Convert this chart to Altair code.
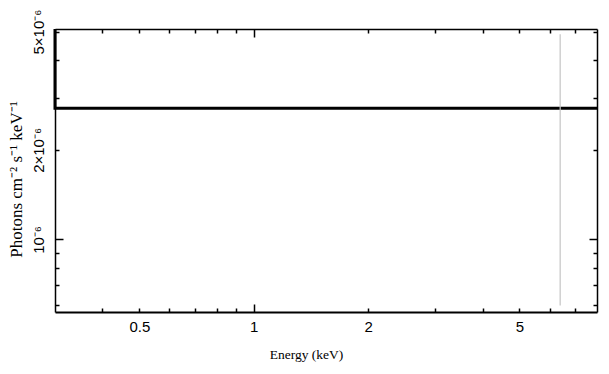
import altair as alt
import pandas as pd

# ---- data ----
energy = [0.3, 0.3, 8.0]
flux = [5.1e-6, 2.76e-6, 2.76e-6]
point_order = [0, 1, 2]

line_energy = [6.4]
line_flux_top = [4.9e-6]
line_flux_bottom = [6.0e-7]

x_domain = [0.3, 8.0]
y_domain = [5.7e-7, 5.1e-6]

x_label_values = [0.5, 1, 2, 5]
x_label_texts = ["0.5", "1", "2", "5"]
x_tick_values = [0.4, 0.5, 0.6, 0.7, 0.8, 0.9, 1, 2, 3, 4, 5, 6, 7]

y_label_values = [1e-6, 2e-6, 5e-6]
y_label_texts = ["10⁻⁶", "2×10⁻⁶", "5×10⁻⁶"]
y_tick_values = [6e-7, 7e-7, 8e-7, 9e-7, 1e-6, 2e-6, 3e-6, 4e-6, 5e-6]

W, H = 542, 283


def label_expr(values, texts):
    expr = "''"
    for v, t in reversed(list(zip(values, texts))):
        expr = f"abs(log(datum.value) - log({v})) < 0.01 ? '{t}' : ({expr})"
    return expr


tick_size = {
    "condition": {
        "test": "abs(log(datum.value)/log(10) - round(log(datum.value)/log(10))) < 0.001",
        "value": 8,
    },
    "value": 4,
}

df = pd.DataFrame({"energy": energy, "flux": flux, "order": point_order})
df_rule = pd.DataFrame({"energy": line_energy, "top": line_flux_top, "bottom": line_flux_bottom})

xs = alt.Scale(type="log", domain=x_domain, nice=False)
ys = alt.Scale(type="log", domain=y_domain, nice=False)

SANS = "Liberation Sans"
SERIF = "Liberation Serif"

common_tick = dict(labels=False, domain=False, tickColor="black", tickWidth=1.5,
                   tickSize=tick_size, title=None, grid=False)

# Layer A: data line + labelled bottom/left axes
lineA = alt.Chart(df).mark_line(color="black", strokeWidth=3).encode(
    x=alt.X("energy:Q", scale=xs, axis=alt.Axis(
        orient="bottom", values=x_label_values,
        labelExpr=label_expr(x_label_values, x_label_texts),
        ticks=False, tickSize=0, domain=True, domainColor="black", domainWidth=2,
        labelFont=SANS, labelFontSize=15, labelColor="black", labelPadding=7,
        title="Energy (keV)", titleFont=SERIF, titleFontSize=13.5,
        titleFontWeight="normal", titleColor="black", titlePadding=13,
        titleX=251, grid=False)),
    y=alt.Y("flux:Q", scale=ys, axis=alt.Axis(
        orient="left", values=y_label_values,
        labelExpr=label_expr(y_label_values, y_label_texts),
        ticks=False, tickSize=0, domain=True, domainColor="black", domainWidth=1.5,
        labelFont=SANS, labelFontSize=15, labelColor="black", labelPadding=9,
        labelAngle=270, labelAlign="center", labelBaseline="bottom",
        title="Photons cm⁻² s⁻¹ keV⁻¹", titleFont=SERIF, titleFontSize=17,
        titleFontWeight="normal", titleColor="black", titlePadding=6,
        titleY=150, grid=False)),
    order="order:Q",
)

# Layer B: gray line marker + inward ticks on the bottom and left edges
ruleB = alt.Chart(df_rule).mark_rule(color="#c4c4c4", strokeWidth=1.2).encode(
    x=alt.X("energy:Q", scale=xs, axis=alt.Axis(
        orient="top", offset=-H, values=x_tick_values, **common_tick)),
    y=alt.Y("top:Q", scale=ys, axis=alt.Axis(
        orient="right", offset=-W, values=y_tick_values, **common_tick)),
    y2="bottom:Q",
)

# Layer C: top and right frame with inward ticks
frame_tick = dict(common_tick)
frame_tick.update(domain=True, domainColor="black", domainWidth=1.5)
frameC = alt.Chart(df).mark_line(opacity=0).encode(
    x=alt.X("energy:Q", scale=xs, axis=alt.Axis(
        orient="bottom", offset=-H, values=x_tick_values, **frame_tick)),
    y=alt.Y("flux:Q", scale=ys, axis=alt.Axis(
        orient="left", offset=-W, values=y_tick_values, **frame_tick)),
    order="order:Q",
)

chart = alt.layer(lineA, ruleB, frameC).resolve_axis(
    x="independent", y="independent"
).properties(
    width=W, height=H,
    autosize="none",
    padding={"left": 47, "top": 21, "right": 4, "bottom": 54},
    background="white",
).configure_view(stroke=None)

chart.save("out.html", embed_options={"renderer": "svg", "actions": False})
